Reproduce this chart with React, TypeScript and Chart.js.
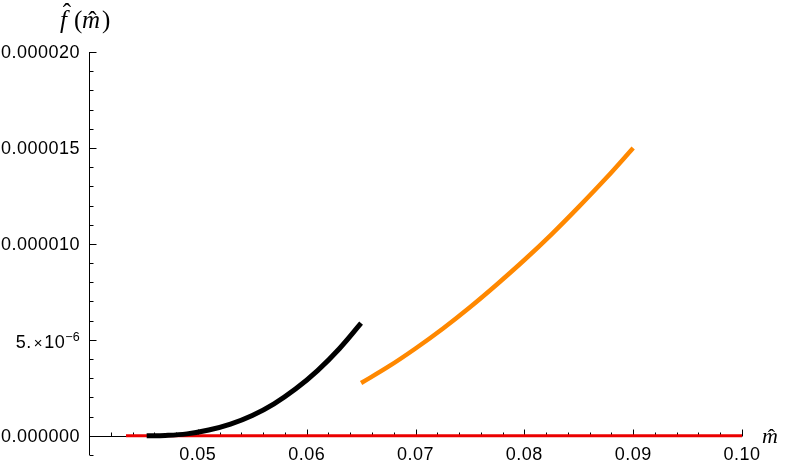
import React, { useEffect, useRef } from "react";
import { Chart, registerables } from "chart.js";

Chart.register(...registerables);

// ---- data ----
const BLACK_X = [0.0453, 0.047, 0.049, 0.051, 0.053, 0.055, 0.057, 0.059, 0.061, 0.063, 0.065];
const BLACK_Y = [0, 0.016e-6, 0.1e-6, 0.3e-6, 0.61e-6, 1.06e-6, 1.67e-6, 2.45e-6, 3.4e-6, 4.54e-6, 5.87e-6];

const ORANGE_X = [0.065, 0.0675, 0.07, 0.0725, 0.075, 0.0775, 0.08, 0.0825, 0.085, 0.0875, 0.09];
const ORANGE_Y = [2.75e-6, 3.6e-6, 4.55e-6, 5.58e-6, 6.7e-6, 7.9e-6, 9.16e-6, 10.5e-6, 11.93e-6, 13.42e-6, 15.0e-6];

const RED_X = [0.0434, 0.1];
const RED_Y = [0, 0];

const X_MIN = 0.04;
const X_MAX = 0.1;
const Y_MIN = -1e-6;
const Y_MAX = 2e-5;

const X_TICKS = [0.05, 0.06, 0.07, 0.08, 0.09, 0.1];
const X_TICK_LABELS = ["0.05", "0.06", "0.07", "0.08", "0.09", "0.10"];
const X_MINOR_STEP = 0.002;

const Y_TICKS = [0, 5e-6, 1e-5, 1.5e-5, 2e-5];
const Y_TICK_LABELS = ["0.000000", "5.×10|−6", "0.000010", "0.000015", "0.000020"];
const Y_MINOR_STEP = 1e-6;

const toPoints = (xs: number[], ys: number[]) => xs.map((x, i) => ({ x, y: ys[i] }));

const TICK_FONT = '18px "Liberation Sans", Arial, sans-serif';
const SERIF_IT = 'italic 25px "Liberation Serif", "Times New Roman", serif';
const SERIF = '25px "Liberation Serif", "Times New Roman", serif';

function drawHat(ctx: CanvasRenderingContext2D, cx: number, baseline: number, font: string) {
  ctx.save();
  ctx.font = font;
  ctx.textAlign = "left";
  const w = ctx.measureText("ˆ").width;
  ctx.fillText("ˆ", cx - w / 2, baseline);
  ctx.restore();
}

const axesPlugin = {
  id: "mmaAxes",
  beforeDatasetsDraw(chart: any) {
    const ctx = chart.ctx as CanvasRenderingContext2D;
    const xs = chart.scales.x;
    const ys = chart.scales.y;
    const x0 = Math.round(xs.getPixelForValue(X_MIN)) + 0.5;
    const x1 = xs.getPixelForValue(X_MAX);
    const y0 = Math.round(ys.getPixelForValue(0)) + 0.5;
    const yTop = ys.getPixelForValue(Y_MAX);
    const yBot = ys.getPixelForValue(Y_MIN);
    ctx.save();
    ctx.strokeStyle = "#000";
    ctx.lineWidth = 1;
    ctx.beginPath();
    ctx.moveTo(x0 - 0.5, y0);
    ctx.lineTo(x1, y0);
    ctx.moveTo(x0, yTop);
    ctx.lineTo(x0, yBot);
    for (let v = X_MIN + X_MINOR_STEP; v <= X_MAX + 1e-9; v += X_MINOR_STEP) {
      const isMajor = X_TICKS.some((t) => Math.abs(t - v) < 1e-7);
      const px = Math.round(xs.getPixelForValue(v)) + 0.5;
      ctx.moveTo(px, y0);
      ctx.lineTo(px, y0 - (isMajor ? 7 : 4));
    }
    for (let v = Y_MIN; v <= Y_MAX + 1e-12; v += Y_MINOR_STEP) {
      const isMajor = Y_TICKS.some((t) => Math.abs(t - v) < 1e-10);
      const py = Math.round(ys.getPixelForValue(v)) + 0.5;
      ctx.moveTo(x0, py);
      ctx.lineTo(x0 + (isMajor ? 7 : 4), py);
    }
    ctx.stroke();
    ctx.restore();
  },
  afterDraw(chart: any) {
    const ctx = chart.ctx as CanvasRenderingContext2D;
    const xs = chart.scales.x;
    const ys = chart.scales.y;
    const x0 = xs.getPixelForValue(X_MIN);
    const y0 = ys.getPixelForValue(0);
    ctx.save();
    ctx.fillStyle = "#000";
    ctx.font = TICK_FONT;
    (ctx as any).letterSpacing = "0.5px";
    ctx.textAlign = "center";
    ctx.textBaseline = "alphabetic";
    X_TICKS.forEach((v, i) => {
      ctx.fillText(X_TICK_LABELS[i], xs.getPixelForValue(v), y0 + 24.5);
    });
    const rightX = x0 - 9;
    Y_TICKS.forEach((v, i) => {
      const lab = Y_TICK_LABELS[i];
      const py = ys.getPixelForValue(v);
      if (lab.includes("|")) {
        const [base, sup] = lab.split("|");
        ctx.textBaseline = "alphabetic";
        ctx.textAlign = "right";
        ctx.font = '12.5px "Liberation Sans", Arial, sans-serif';
        (ctx as any).letterSpacing = "0.3px";
        const supW = ctx.measureText(sup).width;
        ctx.fillText(sup, rightX, py + 1.5);
        ctx.font = TICK_FONT;
        (ctx as any).letterSpacing = "0.5px";
        const parts = base.split("×");
        const tenW = ctx.measureText(parts[1]).width;
        ctx.fillText(parts[1], rightX - supW, py + 8.5);
        ctx.font = '15px "Liberation Sans", Arial, sans-serif';
        const timesW = ctx.measureText("×").width;
        ctx.fillText("×", rightX - supW - tenW - 1, py + 8);
        ctx.font = TICK_FONT;
        ctx.fillText(parts[0], rightX - supW - tenW - timesW - 3, py + 8.5);
      } else {
        ctx.textAlign = "right";
        ctx.textBaseline = "middle";
        ctx.fillText(lab, rightX, py + 1.5);
      }
    });
    (ctx as any).letterSpacing = "0px";

    // y axis title  f̂(m̂)
    ctx.textAlign = "left";
    ctx.textBaseline = "alphabetic";
    const by = 28;
    ctx.font = SERIF_IT;
    ctx.fillText("f", 60, by);
    drawHat(ctx, 67, by - 7, SERIF);
    ctx.font = SERIF;
    ctx.fillText("(", 74, by);
    ctx.font = SERIF_IT;
    const mW = ctx.measureText("m").width;
    ctx.fillText("m", 82, by);
    drawHat(ctx, 82 + mW / 2 + 1.5, by + 1, SERIF);
    ctx.font = SERIF;
    ctx.fillText(")", 82 + mW + 2, by);

    // x axis title m̂
    const mx = 762;
    const my = y0 + 7;
    const f2 = 'italic 22px "Liberation Serif", "Times New Roman", serif';
    ctx.font = f2;
    const m2 = ctx.measureText("m").width;
    ctx.fillText("m", mx, my);
    drawHat(ctx, mx + m2 / 2 + 1.5, my + 1, '22px "Liberation Serif", "Times New Roman", serif');
    ctx.restore();
  },
};

export default function App() {
  const canvasRef = useRef<HTMLCanvasElement | null>(null);

  useEffect(() => {
    const canvas = canvasRef.current;
    if (!canvas) return;
    const chart = new Chart(canvas, {
      type: "scatter",
      data: {
        datasets: [
          {
            label: "black",
            data: toPoints(BLACK_X, BLACK_Y),
            showLine: true,
            borderColor: "#000000",
            borderWidth: 5,
            pointRadius: 0,
            tension: 0.4,
            borderCapStyle: "butt",
            order: 0,
          },
          {
            label: "orange",
            data: toPoints(ORANGE_X, ORANGE_Y),
            showLine: true,
            borderColor: "rgb(255,136,0)",
            borderWidth: 4.5,
            pointRadius: 0,
            tension: 0.4,
            borderCapStyle: "butt",
            order: 1,
          },
          {
            label: "red",
            data: toPoints(RED_X, RED_Y),
            showLine: true,
            borderColor: "rgb(235,0,0)",
            borderWidth: 3,
            pointRadius: 0,
            borderCapStyle: "butt",
            order: 2,
          },
        ],
      },
      options: {
        animation: false,
        responsive: false,
        devicePixelRatio: 1,
        layout: { padding: { left: 89, right: 47, top: 52, bottom: 12 } },
        plugins: { legend: { display: false }, tooltip: { enabled: false } },
        scales: {
          x: { type: "linear", min: X_MIN, max: X_MAX, display: false },
          y: { type: "linear", min: Y_MIN, max: Y_MAX, display: false },
        },
      },
      plugins: [axesPlugin],
    });
    return () => chart.destroy();
  }, []);

  return (
    <div style={{ position: "absolute", left: 0, top: 0, width: 789, height: 467, background: "#fff" }}>
      <canvas ref={canvasRef} width={789} height={467} style={{ display: "block" }} />
    </div>
  );
}
